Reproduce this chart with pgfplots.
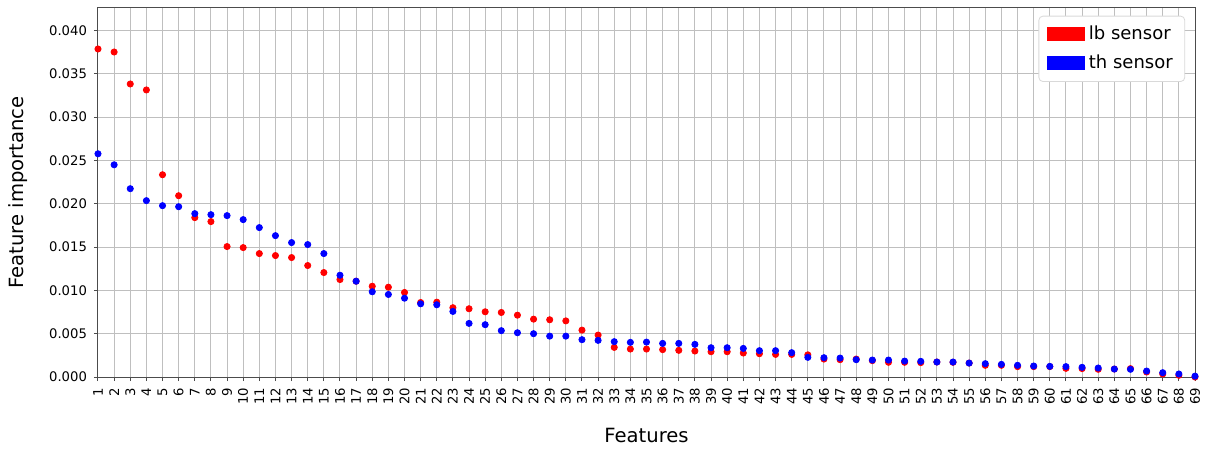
\documentclass[border=0pt]{standalone}
\usepackage{pgfplots}
\pgfplotsset{compat=1.18}
\usepackage{fontspec}
\setmainfont{DejaVu Sans}
\pgfplotstableread{
x y
1 0.03787
2 0.03752
3 0.03383
4 0.03314
5 0.02335
6 0.02093
7 0.01840
8 0.01794
9 0.01506
10 0.01494
11 0.01425
12 0.01402
13 0.01379
14 0.01287
15 0.01206
16 0.01125
17 0.01106
18 0.01048
19 0.01037
20 0.00976
21 0.00860
22 0.00864
23 0.00800
24 0.00788
25 0.00753
26 0.00745
27 0.00714
28 0.00668
29 0.00661
30 0.00648
31 0.00541
32 0.00484
33 0.00342
34 0.00323
35 0.00323
36 0.00316
37 0.00308
38 0.00300
39 0.00292
40 0.00292
41 0.00277
42 0.00269
43 0.00261
44 0.00261
45 0.00256
46 0.00207
47 0.00200
48 0.00207
49 0.00189
50 0.00170
51 0.00170
52 0.00166
53 0.00173
54 0.00170
55 0.00161
56 0.00135
57 0.00135
58 0.00120
59 0.00120
60 0.00120
61 0.00100
62 0.00097
63 0.00089
64 0.00092
65 0.00097
66 0.00058
67 0.00035
68 0.00020
69 0.00000
}\lbdata
\pgfplotstableread{
x y
1 0.02577
2 0.02450
3 0.02174
4 0.02036
5 0.01978
6 0.01966
7 0.01886
8 0.01874
9 0.01863
10 0.01817
11 0.01725
12 0.01632
13 0.01552
14 0.01529
15 0.01425
16 0.01175
17 0.01106
18 0.00984
19 0.00953
20 0.00910
21 0.00845
22 0.00834
23 0.00757
24 0.00619
25 0.00604
26 0.00535
27 0.00511
28 0.00500
29 0.00472
30 0.00472
31 0.00431
32 0.00423
33 0.00408
34 0.00400
35 0.00403
36 0.00388
37 0.00388
38 0.00377
39 0.00338
40 0.00338
41 0.00330
42 0.00304
43 0.00304
44 0.00281
45 0.00227
46 0.00223
47 0.00219
48 0.00200
49 0.00196
50 0.00196
51 0.00184
52 0.00181
53 0.00173
54 0.00173
55 0.00161
56 0.00154
57 0.00146
58 0.00135
59 0.00127
60 0.00123
61 0.00120
62 0.00112
63 0.00104
64 0.00092
65 0.00089
66 0.00069
67 0.00050
68 0.00035
69 0.00010
}\thdata
\begin{document}
\begin{tikzpicture}
\begin{axis}[
  scale only axis,
  width=548.5pt, height=184.5pt,
  xmin=1, xmax=69, ymin=0, ymax=0.0426,
  xtick={1,...,69},
  ytick={0,0.005,...,0.0401},
  scaled y ticks=false,
  /pgf/number format/assume math mode=true,
  yticklabel style={/pgf/number format/fixed, /pgf/number format/fixed zerofill, /pgf/number format/precision=3, font=\fontsize{6.6}{8}\selectfont},
  xticklabel style={rotate=90, anchor=east, font=\fontsize{6.6}{8}\selectfont},
  grid=major,
  major grid style={draw=black!25, line width=0.5pt},
  axis line style={draw=black!70, line width=0.5pt},
  tick style={draw=black!70, line width=0.5pt},
  tick align=outside,
  major tick length=2pt,
  xtick pos=bottom, ytick pos=left,
  xlabel={Features},
  ylabel={Feature importance},
  label style={font=\fontsize{9.8}{12}\selectfont},
  xlabel style={at={(axis description cs:0.5,0)}, anchor=center, yshift=-29pt},
  ylabel style={at={(axis description cs:0,0.5)}, anchor=center, yshift=40pt},
  legend style={at={(axis description cs:0.991,0.979)}, anchor=north east, draw=black!15, rounded corners=2pt, fill=white, font=\fontsize{9}{11}\selectfont, row sep=2pt, inner xsep=4pt, inner ysep=3pt},
  legend cell align=left,
  legend image code/.code={\fill[#1, sharp corners] (0pt,-3.5pt) rectangle (19pt,3.5pt);},
]
\addplot[only marks, mark=*, mark size=1.55pt, color=red, draw=none, fill=red] table[x=x,y=y]{\lbdata};
\addlegendentry{lb sensor}
\addplot[only marks, mark=*, mark size=1.55pt, color=blue, draw=none, fill=blue] table[x=x,y=y]{\thdata};
\addlegendentry{th sensor}
\coordinate (bl) at (rel axis cs:0,0);
\coordinate (tr) at (rel axis cs:1,1);
\end{axis}
\path ([xshift=-49pt,yshift=-35pt]bl) rectangle ([xshift=9pt,yshift=4pt]tr);
\end{tikzpicture}
\end{document}
